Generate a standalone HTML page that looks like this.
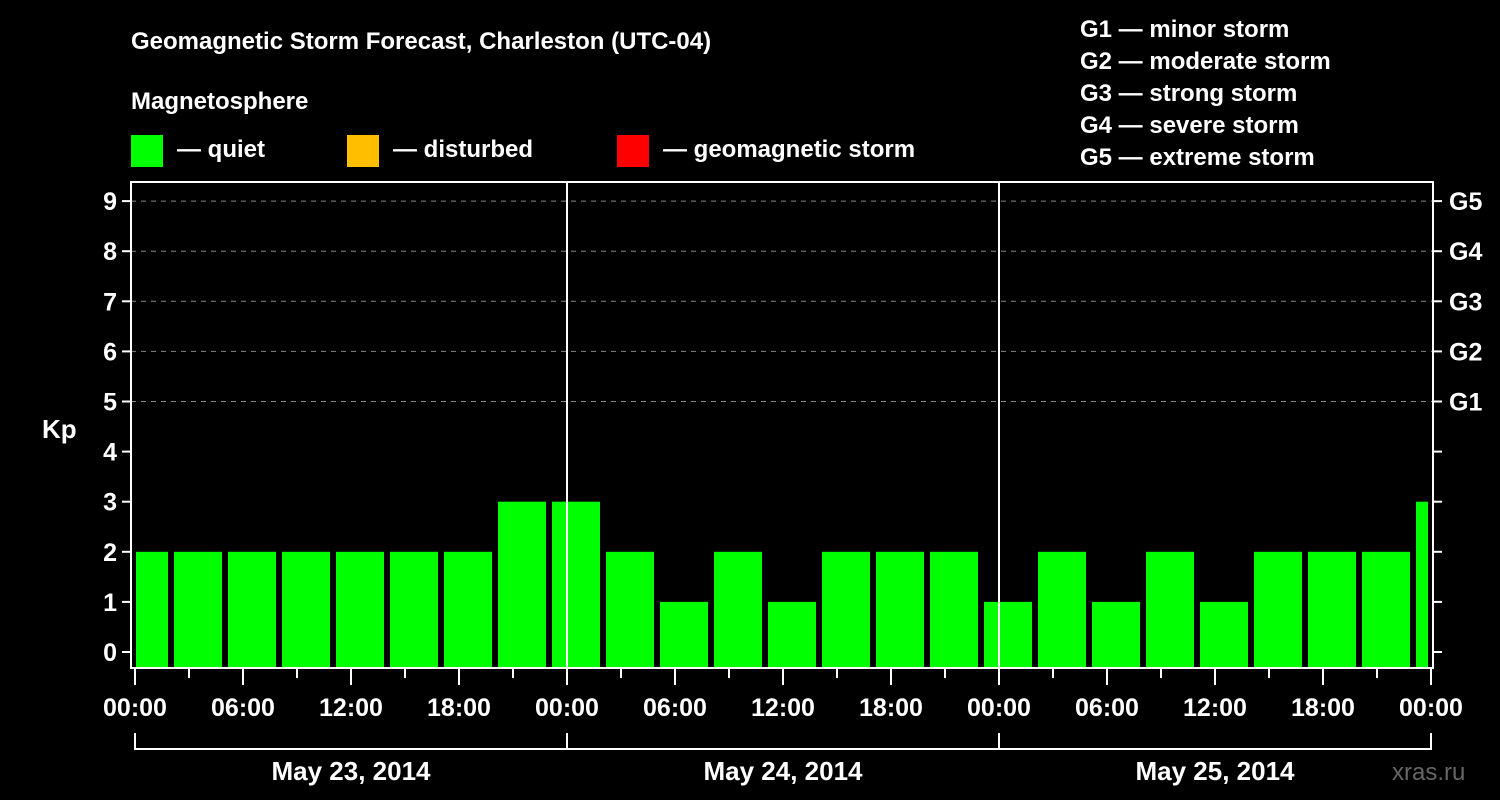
<!DOCTYPE html>
<html><head><meta charset="utf-8"><style>
html,body{margin:0;padding:0;background:#000;}
svg{display:block;font-family:"Liberation Sans",Arial,sans-serif;font-weight:bold;}
</style></head><body>
<svg id="chart" width="1500" height="800" viewBox="0 0 1500 800">
<rect width="1500" height="800" fill="#000"/>
<text x="131" y="49" fill="#fff" font-size="24">Geomagnetic Storm Forecast, Charleston (UTC-04)</text>
<text x="131" y="109" fill="#fff" font-size="24">Magnetosphere</text>
<g><rect x="131" y="135" width="32" height="32" fill="#00ff00"/><text x="177" y="157" fill="#fff" font-size="24">— quiet</text></g>
<g><rect x="347" y="135" width="32" height="32" fill="#ffbf00"/><text x="393" y="157" fill="#fff" font-size="24">— disturbed</text></g>
<g><rect x="617" y="135" width="32" height="32" fill="#ff0000"/><text x="663" y="157" fill="#fff" font-size="24">— geomagnetic storm</text></g>
<g fill="#fff" font-size="24">
<text x="1080" y="37">G1 — minor storm</text>
<text x="1080" y="69">G2 — moderate storm</text>
<text x="1080" y="101">G3 — strong storm</text>
<text x="1080" y="133">G4 — severe storm</text>
<text x="1080" y="165">G5 — extreme storm</text>
</g>
<text x="42" y="438" fill="#fff" font-size="26">Kp</text>
<text x="1392" y="780" fill="#666" font-size="24" font-weight="normal">xras.ru</text>
<g id="grid"></g><g id="bars"></g><g id="axes"></g>
</svg>
<script>
const kpValues = [2,2,2,2,2,2,2,3,3,2,1,2,1,2,2,2,1,2,1,2,1,2,2,2,3];
const barStartHours = [-1,2,5,8,11,14,17,20,23,26,29,32,35,38,41,44,47,50,53,56,59,62,65,68,71];
const yTicks = [0,1,2,3,4,5,6,7,8,9];
const gLabels = ["","","","","","G1","G2","G3","G4","G5"];
const xTickLabels = ["00:00","06:00","12:00","18:00","00:00","06:00","12:00","18:00","00:00","06:00","12:00","18:00","00:00"];
const dateLabels = ["May 23, 2014","May 24, 2014","May 25, 2014"];
const NS="http://www.w3.org/2000/svg";
const L=131,R=1433,T=182,B=668;
const xAt=h=>135+h*18;
const yAt=v=>652-v*50.1;
function mk(tag,attrs,parent){const e=document.createElementNS(NS,tag);for(const k in attrs)e.setAttribute(k,attrs[k]);parent.appendChild(e);return e;}
const grid=document.getElementById('grid'),bars=document.getElementById('bars'),axes=document.getElementById('axes');
yTicks.forEach((v,i)=>{
  if(v>=5){const g=mk('line',{x1:L,x2:R,y1:yAt(v),y2:yAt(v),stroke:'#888','stroke-dasharray':'5,5','stroke-width':1},grid);
  
  }
  const t1=mk('line',{x1:122,x2:L,y1:yAt(v),y2:yAt(v),stroke:'#fff','stroke-width':2},axes);
  
  
  const t2=mk('line',{x1:R,x2:1442,y1:yAt(v),y2:yAt(v),stroke:'#fff','stroke-width':2},axes);
  
  
  const tl=mk('text',{x:117,y:yAt(v)+9,fill:'#fff','font-size':25,'text-anchor':'end'},axes);tl.textContent=v;
  
  
  if(gLabels[i]){const gl=mk('text',{x:1449,y:yAt(v)+9,fill:'#fff','font-size':25},axes);gl.textContent=gLabels[i];
  
  }
});
kpValues.forEach((v,i)=>{
  let x0=Math.max(xAt(barStartHours[i])+3,L+5), x1=Math.min(xAt(barStartHours[i])+51,R-5);
  const col=v>=5?'#ff0000':(v>=4?'#ffbf00':'#00ff00');
  const b=mk('rect',{x:x0,y:yAt(v),width:x1-x0,height:B-1-yAt(v),fill:col},bars);
  
  
});
const fr=mk('rect',{x:L,y:T,width:R-L,height:B-T,fill:'none',stroke:'#fff','stroke-width':2},axes);


for(let d=1;d<=2;d++){const l=mk('line',{x1:xAt(d*24),x2:xAt(d*24),y1:T,y2:B,stroke:'#fff','stroke-width':2},axes);

}
for(let h=0;h<=72;h+=3){const long=h%6===0;const t=mk('line',{x1:xAt(h),x2:xAt(h),y1:B,y2:long?685:678,stroke:'#fff','stroke-width':2},axes);

}
xTickLabels.forEach((s,i)=>{const t=mk('text',{x:xAt(i*6),y:716,fill:'#fff','font-size':25,'text-anchor':'middle'},axes);t.textContent=s;

});
const br=mk('path',{d:`M${xAt(0)},733V749H${xAt(72)}V733M${xAt(24)},733V749M${xAt(48)},733V749`,fill:'none',stroke:'#fff','stroke-width':2},axes);


dateLabels.forEach((s,i)=>{const t=mk('text',{x:xAt(i*24+12),y:780,fill:'#fff','font-size':26,'text-anchor':'middle'},axes);t.textContent=s;

});
</script>
</body></html>
